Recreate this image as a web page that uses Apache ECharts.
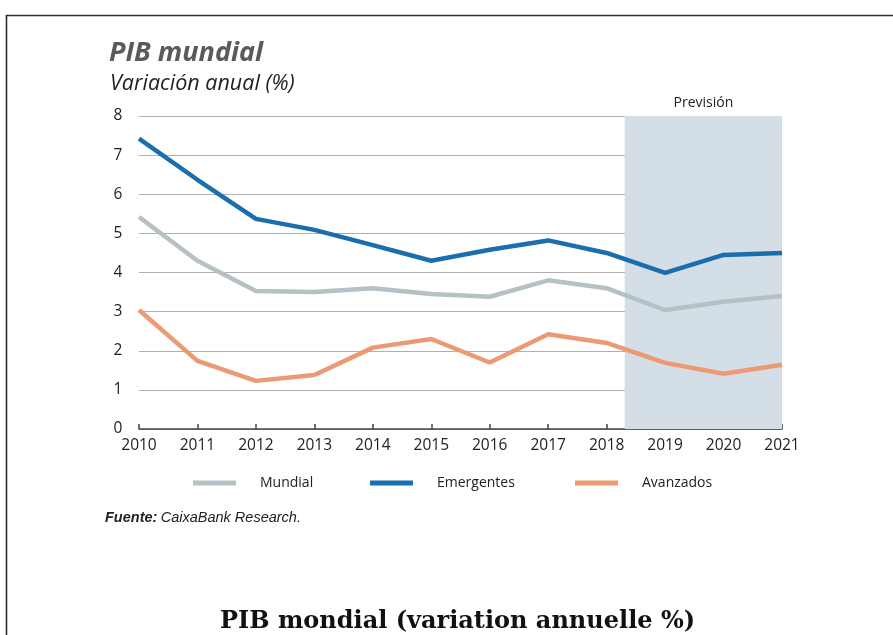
<!DOCTYPE html>
<html><head><meta charset="utf-8">
<script src="https://cdn.jsdelivr.net/npm/echarts@6/dist/echarts.min.js"></script>
<style>html,body{margin:0;padding:0;background:#fff}#c{width:893px;height:635px}</style>
</head><body><div id="c"></div>
<script>
const years = [2010,2011,2012,2013,2014,2015,2016,2017,2018,2019,2020,2021];
const mundial = [5.42,4.3,3.53,3.5,3.6,3.45,3.38,3.8,3.6,3.04,3.25,3.4];
const emergentes = [7.42,6.37,5.37,5.09,4.7,4.3,4.58,4.82,4.5,3.99,4.45,4.5];
const avanzados = [3.04,1.74,1.23,1.38,2.08,2.3,1.7,2.42,2.2,1.69,1.41,1.64];
const prevision = [2018.31, 2021];
const yTicks = [0,1,2,3,4,5,6,7,8];
const seriesNames = ['Mundial','Emergentes','Avanzados'];

const chart = echarts.init(document.getElementById('c'));
const pair = arr => years.map((y,i)=>[y,arr[i]]);
const lineFont = 'Open Sans, Noto Sans, sans-serif';
const narrow = 'Liberation Sans Narrow, Liberation Sans, sans-serif';
const legendLefts = [188, 365, 570];
const mkLegend = (name,i) => ({show:true,left:legendLefts[i],top:471,itemWidth:43,itemHeight:5,
    icon:'rect',textStyle:{fontSize:14,color:'#222',fontFamily:lineFont,padding:[0,0,0,19]},
    data:[name]});
chart.setOption({
  animation:false,
  backgroundColor:'#fff',
  grid:{left:139,right:111,top:116,bottom:206},
  xAxis:{type:'value',min:2010,max:2021,interval:1,
    axisLine:{show:true,lineStyle:{color:'#444',width:1.5}},
    axisTick:{show:true,inside:true,length:5,lineStyle:{color:'#444',width:1.5}},
    splitLine:{show:false},
    axisLabel:{color:'#222',fontSize:15.5,fontFamily:lineFont,margin:9,formatter:v=>String(v)}},
  yAxis:{type:'value',min:yTicks[0],max:yTicks[yTicks.length-1],interval:1,
    axisLine:{show:false},axisTick:{show:false},
    splitLine:{lineStyle:{color:'#b0b0b0',width:1}},
    axisLabel:{color:'#222',fontSize:15.5,fontFamily:lineFont,margin:21,align:'center'}},
  legend:seriesNames.map(mkLegend),
  series:[
    {name:'Mundial',type:'line',data:pair(mundial),symbol:'none',
     lineStyle:{color:'#b5c1c4',width:4.5},itemStyle:{color:'#b5c1c4'},z:3,
     markArea:{silent:true,itemStyle:{color:'#d3dee6'},
       label:{show:true,position:'top',formatter:'Previsión',color:'#222',fontSize:14,fontWeight:500,fontFamily:lineFont,distance:6},
       data:[[{xAxis:prevision[0]},{xAxis:prevision[1]}]]}},
    {name:'Emergentes',type:'line',data:pair(emergentes),symbol:'none',
     lineStyle:{color:'#1b6eac',width:4.5},itemStyle:{color:'#1b6eac'},z:4},
    {name:'Avanzados',type:'line',data:pair(avanzados),symbol:'none',
     lineStyle:{color:'#ec9a74',width:4.5},itemStyle:{color:'#ec9a74'},z:5}
  ],
  graphic:[
    {type:'line',shape:{x1:6,y1:15.5,x2:893,y2:15.5},style:{stroke:'#333',lineWidth:1.5}},
    {type:'line',shape:{x1:6.5,y1:15,x2:6.5,y2:635},style:{stroke:'#222',lineWidth:1.5}},
    {type:'text',left:109,top:40,style:{text:'PIB mundial',fontSize:27,fontWeight:'bold',fontStyle:'italic',fill:'#5a5a5a',fontFamily:lineFont}},
    {type:'text',left:110,top:73,style:{text:'Variación anual (%)',fontSize:21.5,fontStyle:'italic',fill:'#222',fontFamily:lineFont}},
    {type:'text',left:105,top:510,style:{text:'{b|Fuente:} {n|CaixaBank Research.}',
      rich:{b:{fontSize:14.5,fontWeight:'bold',fontStyle:'italic',fill:'#222',fontFamily:narrow},
            n:{fontSize:14.5,fontStyle:'italic',fill:'#222',fontFamily:narrow}}}},
    {type:'text',left:220,top:610,style:{text:'PIB mondial (variation annuelle %)',fontSize:24,fontWeight:'bold',fill:'#111',fontFamily:'DejaVu Serif, serif'}}
  ]
});
</script></body></html>
